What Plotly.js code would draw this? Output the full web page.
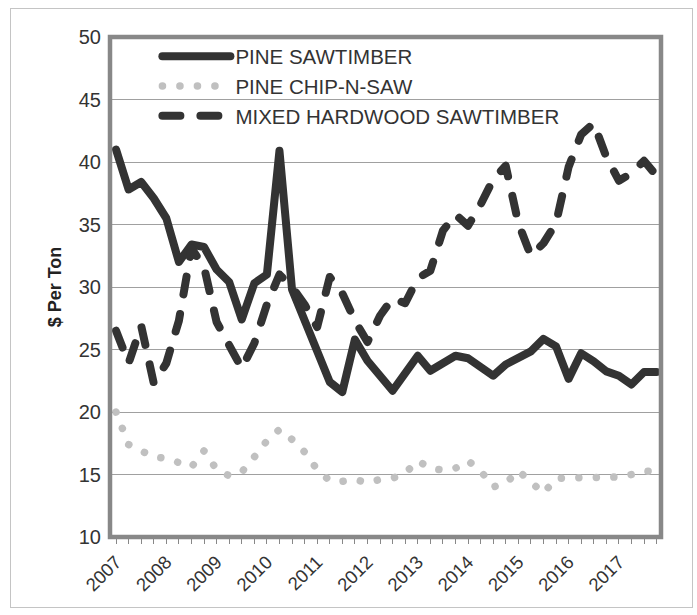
<!DOCTYPE html>
<html>
<head>
<meta charset="utf-8">
<script src="https://cdn.plot.ly/plotly-3.0.1.min.js"></script>
<style>
  html, body { margin: 0; padding: 0; background: #fff; }
  #chart { width: 697px; height: 615px; }
  #frame { position: absolute; left: 10px; top: 8px; width: 681px; height: 598px; border: 1px solid #c4c4c4; pointer-events: none; }
  .js-line { stroke-linecap: round !important; stroke-linejoin: round !important; }
</style>
</head>
<body>
<div id="chart"></div>
<div id="frame"></div>
<script>
const quarters = [
  '2007 Q1','2007 Q2','2007 Q3','2007 Q4',
  '2008 Q1','2008 Q2','2008 Q3','2008 Q4',
  '2009 Q1','2009 Q2','2009 Q3','2009 Q4',
  '2010 Q1','2010 Q2','2010 Q3','2010 Q4',
  '2011 Q1','2011 Q2','2011 Q3','2011 Q4',
  '2012 Q1','2012 Q2','2012 Q3','2012 Q4',
  '2013 Q1','2013 Q2','2013 Q3','2013 Q4',
  '2014 Q1','2014 Q2','2014 Q3','2014 Q4',
  '2015 Q1','2015 Q2','2015 Q3','2015 Q4',
  '2016 Q1','2016 Q2','2016 Q3','2016 Q4',
  '2017 Q1','2017 Q2','2017 Q3','2017 Q4'
];
const years = ['2007','2008','2009','2010','2011','2012','2013','2014','2015','2016','2017'];

const pineSawtimber = [
  41.0, 37.8, 38.4, 37.1, 35.5, 32.0, 33.4, 33.2, 31.4, 30.4,
  27.4, 30.3, 31.0, 40.9, 29.8, 27.3, 24.7, 22.4, 21.6, 25.8,
  24.1, 23.0, 21.7, 23.1, 24.5, 23.3, 23.9, 24.5, 24.3, 23.6,
  22.9, 23.8, 24.3, 24.85, 25.85, 25.25, 22.65, 24.7, 24.05, 23.25,
  22.9, 22.2, 23.2, 23.2
];
const pineChipNSaw = [
  20.0, 17.4, 16.9, 16.4, 16.3, 16.0, 15.6, 16.9, 15.4, 14.9,
  15.2, 16.4, 17.7, 18.6, 17.8, 16.8, 15.4, 14.5, 14.45, 14.6,
  14.35, 14.6, 14.7, 15.1, 16.1, 15.5, 15.35, 15.5, 16.1, 15.3,
  14.0, 14.3, 15.3, 14.4, 13.5, 14.7, 14.75, 14.7, 14.7, 14.85,
  14.8, 15.0, 15.3, 15.2
];
const mixedHardwood = [
  26.5, 23.9, 26.9, 22.3, 23.9, 27.3, 33.1, 31.6, 27.2, 25.3,
  23.5, 25.5, 28.6, 31.0, 30.0, 28.6, 26.8, 30.8, 29.5, 27.3,
  25.6, 27.7, 29.1, 28.7, 30.7, 31.3, 34.5, 35.8, 34.9, 36.6,
  38.6, 39.7, 35.1, 32.5, 33.5, 35.1, 39.6, 42.2, 43.1, 40.4,
  38.5, 39.1, 40.1, 38.9
];
const seriesNames = ['PINE SAWTIMBER', 'PINE CHIP-N-SAW', 'MIXED HARDWOOD SAWTIMBER'];

const dark = '#333333';
const light = '#c0c0c0';
const font = 'Liberation Sans, Arial, sans-serif';

const traces = [
  { x: quarters, y: pineSawtimber, name: seriesNames[0], type: 'scatter', mode: 'lines',
    line: { color: dark, width: 8 } },
  { x: quarters, y: pineChipNSaw, name: seriesNames[1], type: 'scatter', mode: 'lines',
    line: { color: light, width: 7.5, dash: '0.1px,17.4px' } },
  { x: quarters, y: mixedHardwood, name: seriesNames[2], type: 'scatter', mode: 'lines',
    line: { color: dark, width: 8, dash: '18px,20px' } }
];

const ticktext = quarters.map((q, i) => (i % 4 === 0 ? years[i / 4] : ''));

const layout = {
  width: 697, height: 615,
  margin: { l: 110, r: 36, t: 37, b: 78 },
  paper_bgcolor: '#ffffff', plot_bgcolor: '#ffffff',
  font: { family: font, color: '#333333', size: 20 },
  showlegend: true,
  legend: {
    x: 0.086, y: 1.001, xanchor: 'left', yanchor: 'top',
    bgcolor: 'rgba(0,0,0,0)', borderwidth: 0,
    font: { family: font, size: 20.5, color: '#333333' },
    itemwidth: 68, tracegroupgap: 0
  },
  xaxis: {
    type: 'category',
    range: [-0.48, 43.35],
    tickmode: 'array', tickvals: quarters, ticktext: ticktext,
    tickangle: -45,
    tickfont: { family: font, size: 18.5, color: '#333333' },
    ticks: 'outside', ticklen: 6, tickcolor: '#888888', tickwidth: 1,
    showgrid: false, zeroline: false, showline: false,
    automargin: false
  },
  yaxis: {
    range: [10, 50], tick0: 10, dtick: 5, tickmode: 'linear',
    showgrid: true, gridcolor: '#a0a0a0', gridwidth: 1,
    zeroline: false, showline: false, ticks: '',
    tickfont: { family: font, size: 20, color: '#333333' },
    ticklabelstandoff: 8,
    title: { text: '$ Per Ton', font: { family: font, size: 18, color: '#222222', weight: 'bold' }, standoff: 12 },
    automargin: false
  },
  shapes: [
    { type: 'rect', xref: 'paper', yref: 'paper', x0: 0, x1: 1, y0: 0, y1: 1,
      line: { color: '#888888', width: 4.5 }, layer: 'above' }
  ]
};

Plotly.newPlot('chart', traces, layout, { staticPlot: true, displayModeBar: false });
</script>
</body>
</html>
